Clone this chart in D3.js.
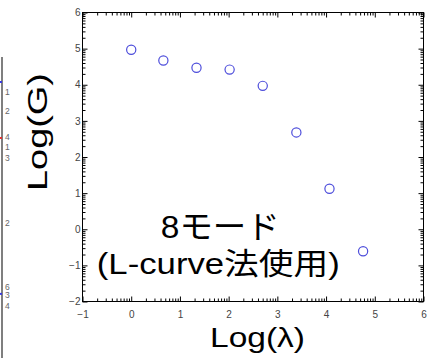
<!DOCTYPE html>
<html><head><meta charset="utf-8">
<script src="https://cdn.jsdelivr.net/npm/d3@7"></script>
<style>
html,body{margin:0;padding:0;background:#fff;}
svg{display:block;}
text{font-family:"Liberation Sans","Noto Sans CJK JP",Arial,sans-serif;}
</style></head>
<body>
<script>
// ---- data ----
const logLambda = [0.0, 0.66, 1.34, 2.02, 2.70, 3.39, 4.07, 4.76];
const logG      = [4.97, 4.67, 4.47, 4.42, 3.97, 2.68, 1.12, -0.61];
const xTicks = [-1, 0, 1, 2, 3, 4, 5, 6];
const yTicks = [-2, -1, 0, 1, 2, 3, 4, 5, 6];
const xLabel = "Log(λ)";
const yLabel = "Log(G)";
const noteLine1 = "8モード";
const noteLine2 = "(L-curve法使用)";
// labels of the neighbouring (cut-off) panel, as fraction of its height
const sideLabels = ["1", "2", "4", "1", "3", "2", "6", "3", "4"];
const sidePos    = [0.116, 0.179, 0.265, 0.298, 0.335, 0.551, 0.762, 0.789, 0.827];
const sideMarks  = [{c:"#3a3ae0", p:0.083}, {c:"#e03030", p:0.269}, {c:"#3a3ae0", p:0.787}];

const W = 432, H = 358;
const svg = d3.select("body").append("svg").attr("width", W).attr("height", H);

const L = 82.5, R = 423.5, T = 12.5, B = 301.5;
const x = d3.scaleLinear().domain([-1, 6]).range([L, R]);
const y = d3.scaleLinear().domain([-2, 6]).range([B, T]);

// minor ticks at log positions inside each unit
const minorX = [], minorY = [];
d3.range(-1, 6).forEach(k => d3.range(2, 10).forEach(m => minorX.push(k + Math.log10(m))));
d3.range(-2, 6).forEach(k => d3.range(2, 10).forEach(m => minorY.push(k + Math.log10(m))));

function styleAxis(g) {
  g.select(".domain").remove();
  g.selectAll(".tick line").attr("stroke", "#000").attr("stroke-width", 1);
  g.selectAll(".tick text").attr("fill", "#444").style("font-size", "10px");
}
const fmt = d => d < 0 ? "\u2212" + Math.abs(d) : String(d);

function addAxis(axis, tx, ty) {
  return svg.append("g").attr("transform", `translate(${tx},${ty})`).call(axis).call(styleAxis);
}
addAxis(d3.axisBottom(x).tickValues(xTicks).tickSizeInner(-5).tickSizeOuter(0).tickPadding(9).tickFormat(fmt), 0, B);
addAxis(d3.axisBottom(x).tickValues(minorX).tickSizeInner(-3).tickSizeOuter(0).tickFormat(() => ""), 0, B);
addAxis(d3.axisTop(x).tickValues(xTicks).tickSizeInner(-5).tickSizeOuter(0).tickFormat(() => ""), 0, T);
addAxis(d3.axisTop(x).tickValues(minorX).tickSizeInner(-3).tickSizeOuter(0).tickFormat(() => ""), 0, T);
addAxis(d3.axisLeft(y).tickValues(yTicks).tickSizeInner(-5).tickSizeOuter(0).tickPadding(2).tickFormat(fmt), L, 0);
addAxis(d3.axisLeft(y).tickValues(minorY).tickSizeInner(-3).tickSizeOuter(0).tickFormat(() => ""), L, 0);
addAxis(d3.axisRight(y).tickValues(yTicks).tickSizeInner(-5).tickSizeOuter(0).tickFormat(() => ""), R, 0);
addAxis(d3.axisRight(y).tickValues(minorY).tickSizeInner(-3).tickSizeOuter(0).tickFormat(() => ""), R, 0);

// frame
svg.append("rect").attr("x", L).attr("y", T).attr("width", R - L).attr("height", B - T)
  .attr("fill", "none").attr("stroke", "#000").attr("stroke-width", 1);

// points
svg.append("g").selectAll("circle").data(logLambda).join("circle")
  .attr("cx", d => x(d)).attr("cy", (d, i) => y(logG[i])).attr("r", 4.6)
  .attr("fill", "none").attr("stroke", "#4d4ddb").attr("stroke-width", 1.2);

// axis titles
svg.append("text").text(xLabel)
  .attr("x", 257.5).attr("y", 346.7).attr("text-anchor", "middle")
  .attr("textLength", 95).attr("lengthAdjust", "spacingAndGlyphs")
  .style("font-size", "28px").attr("fill", "#000");
svg.append("text").text(yLabel)
  .attr("transform", "translate(46.5,132) rotate(-90)").attr("text-anchor", "middle")
  .attr("textLength", 118).attr("lengthAdjust", "spacingAndGlyphs")
  .style("font-size", "27px").attr("fill", "#000");

// annotation
svg.append("text").text(noteLine1)
  .attr("x", 220.3).attr("y", 237.7).attr("text-anchor", "middle")
  .attr("textLength", 119).attr("lengthAdjust", "spacingAndGlyphs")
  .style("font-size", "32px").attr("fill", "#000");
svg.append("text").text(noteLine2)
  .attr("x", 218.3).attr("y", 274).attr("text-anchor", "middle")
  .attr("textLength", 243).attr("lengthAdjust", "spacingAndGlyphs")
  .style("font-size", "30px").attr("fill", "#000");

// neighbouring cut-off panel on the left
const sy = d3.scaleLinear().domain([0, 1]).range([57, 358]);
svg.append("line").attr("x1", 2).attr("x2", 2).attr("y1", sy(0)).attr("y2", sy(1))
  .attr("stroke", "#555").attr("stroke-width", 1.5);
svg.append("g").selectAll("rect").data(sideMarks).join("rect")
  .attr("x", 0).attr("y", d => sy(d.p) - 1).attr("width", 2).attr("height", 2).attr("fill", d => d.c);
svg.append("g").selectAll("text").data(sideLabels).join("text")
  .text(d => d).attr("x", 5).attr("y", (d, i) => sy(sidePos[i]) + 3.2)
  .style("font-size", "8.5px").attr("fill", "#666");
</script>
</body></html>
